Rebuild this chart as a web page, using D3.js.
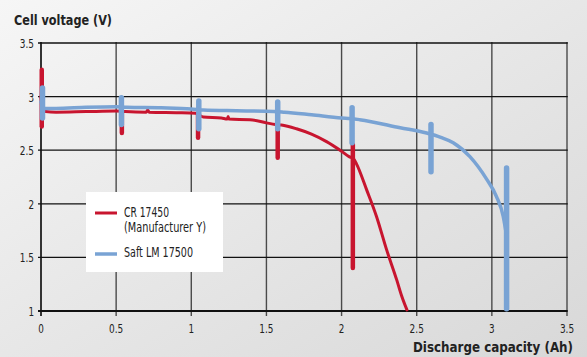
<!DOCTYPE html>
<html>
<head>
<meta charset="utf-8">
<script src="https://cdn.jsdelivr.net/npm/d3@7"></script>
<style>
  body { margin: 0; }
  svg { display: block; font-family: "Liberation Sans Narrow", "DejaVu Sans Condensed", sans-serif; }
</style>
</head>
<body>
<svg id="chart" width="587" height="357"></svg>
<script>
// values (capacity in Ah, voltage in V)
const xTicks = [0, 0.5, 1, 1.5, 2, 2.5, 3, 3.5]
const yTicks = [1, 1.5, 2, 2.5, 3, 3.5]

const redLine = [
  [0, 3.0], [0.012, 2.87], [0.03, 2.86], [0.1, 2.855], [0.3, 2.86], [0.5, 2.865], [0.56, 2.86],
  [0.7, 2.855], [0.71, 2.875], [0.72, 2.855], [0.9, 2.85], [1.03, 2.845], [1.08, 2.81], [1.2, 2.8],
  [1.24, 2.79], [1.245, 2.815], [1.25, 2.79], [1.39, 2.785], [1.5, 2.755], [1.56, 2.74], [1.6, 2.735],
  [1.7, 2.7], [1.8, 2.65], [1.9, 2.58], [2.0, 2.49], [2.05, 2.44], [2.08, 2.42], [2.1, 2.37],
  [2.167, 2.13], [2.233, 1.88], [2.3, 1.57], [2.367, 1.29], [2.4, 1.14], [2.435, 1.01]
]
const blueLine = [
  [0, 2.95], [0.02, 2.89], [0.1, 2.89], [0.3, 2.9], [0.5, 2.905], [0.57, 2.9], [0.8, 2.895],
  [1.0, 2.885], [1.08, 2.875], [1.3, 2.868], [1.55, 2.862], [1.62, 2.855], [1.8, 2.83], [2.0, 2.8],
  [2.06, 2.795], [2.12, 2.785], [2.39, 2.71], [2.566, 2.66], [2.66, 2.62], [2.743, 2.57],
  [2.854, 2.44], [2.965, 2.23], [3.03, 2.07], [3.076, 1.88], [3.098, 1.7]
]
// current pulses: [capacity, top voltage, bottom voltage]
const redPulses = [
  [0.005, 3.25, 2.72], [0.538, 2.86, 2.66], [1.045, 2.84, 2.615], [1.575, 2.72, 2.43], [2.075, 2.55, 1.4]
]
const bluePulses = [
  [0.01, 3.08, 2.8], [0.535, 2.99, 2.74], [1.05, 2.96, 2.7], [1.575, 2.95, 2.7],
  [2.07, 2.895, 2.57], [2.595, 2.74, 2.3], [3.098, 2.335, 1.02]
]
const seriesNames = ["CR 17450", "(Manufacturer Y)", "Saft LM 17500"]

const red = "#c8152f"
const blue = "#79a3d4"

const svg = d3.select("#chart")
const width = 587, height = 357
const margin = {left: 41, right: 20, top: 43, bottom: 46}

// background gradient
const defs = svg.append("defs")
const grad = defs.append("linearGradient").attr("id", "bg")
  .attr("x1", "0%").attr("y1", "0%").attr("x2", "100%").attr("y2", "100%")
grad.append("stop").attr("offset", "0%").attr("stop-color", "#f6f6f6")
grad.append("stop").attr("offset", "100%").attr("stop-color", "#d8d8d8")
svg.append("rect").attr("width", width).attr("height", height).attr("fill", "url(#bg)")

var x = d3.scaleLinear().domain([0, 3.5]).range([margin.left, width - margin.right])
var y = d3.scaleLinear().domain([1, 3.5]).range([height - margin.bottom, margin.top])

// grid
svg.append("g").selectAll("line").data(xTicks).enter().append("line")
  .attr("x1", d => x(d)).attr("x2", d => x(d))
  .attr("y1", y(3.5) - 1).attr("y2", y(1) + 5)
  .attr("stroke", d => d == 0 ? "#333" : "#4a4a4a").attr("stroke-width", d => d == 0 ? 2 : 1.4)
svg.append("g").selectAll("line").data(yTicks).enter().append("line")
  .attr("x1", x(0) - 3).attr("x2", x(3.5) + 0.7)
  .attr("y1", d => y(d)).attr("y2", d => y(d))
  .attr("stroke", "#111").attr("stroke-width", d => d == 1 ? 2 : 1.3)

// tick labels, squeezed to the narrow face of the original
function numWidth(d) {
  var s = String(d)
  return s.replace(".", "").length * 5.6 + (s.includes(".") ? 3 : 0)
}
svg.append("g").selectAll("text").data(yTicks).enter().append("text")
  .attr("x", x(0) - 7).attr("y", d => y(d) + 5)
  .attr("text-anchor", "end").attr("font-size", 13).attr("fill", "#222")
  .attr("textLength", numWidth).attr("lengthAdjust", "spacingAndGlyphs")
  .text(d => d)
svg.append("g").selectAll("text").data(xTicks).enter().append("text")
  .attr("x", d => x(d)).attr("y", y(1) + 22)
  .attr("text-anchor", "middle").attr("font-size", 13).attr("fill", "#222")
  .attr("textLength", numWidth).attr("lengthAdjust", "spacingAndGlyphs")
  .text(d => d)

// axis titles
svg.append("text").attr("x", 14).attr("y", 25)
  .attr("font-size", 14.5).attr("font-weight", "bold").attr("fill", "#222")
  .attr("textLength", 98).attr("lengthAdjust", "spacingAndGlyphs")
  .text("Cell voltage (V)")
svg.append("text").attr("x", 413).attr("y", 352)
  .attr("font-size", 14).attr("font-weight", "bold").attr("fill", "#222")
  .attr("textLength", 160).attr("lengthAdjust", "spacingAndGlyphs")
  .text("Discharge capacity (Ah)")

var line = d3.line().x(d => x(d[0])).y(d => y(d[1])).curve(d3.curveMonotoneX)

function drawSeries(points, pulses, color, w, pw) {
  var g = svg.append("g")
  g.append("path").datum(points)
    .attr("d", line).attr("fill", "none")
    .attr("stroke", color).attr("stroke-width", w)
    .attr("stroke-linejoin", "round").attr("stroke-linecap", "round")
  g.selectAll(".pulse").data(pulses).enter().append("path")
    .attr("class", "pulse")
    .attr("d", d => d3.line()([[x(d[0]), y(d[1])], [x(d[0]), y(d[2])]]))
    .attr("stroke", color).attr("stroke-width", pw)
    .attr("stroke-linecap", "round")
}
drawSeries(redLine, redPulses, red, 3, 4.5)
drawSeries(blueLine, bluePulses, blue, 3.5, 5.5)

// legend
var lg = svg.append("g")
lg.append("rect").attr("x", 86).attr("y", 192).attr("width", 137).attr("height", 80).attr("fill", "#fff")
lg.append("line").attr("x1", 95).attr("x2", 117).attr("y1", 213).attr("y2", 213)
  .attr("stroke", red).attr("stroke-width", 3)
lg.append("line").attr("x1", 95).attr("x2", 117).attr("y1", 254).attr("y2", 254)
  .attr("stroke", blue).attr("stroke-width", 3.5)
lg.selectAll("text").data(seriesNames).enter().append("text")
  .attr("x", 124).attr("y", (d, i) => [217, 232, 257][i])
  .attr("font-size", 14).attr("fill", "#222")
  .attr("textLength", (d, i) => [45, 82, 69][i]).attr("lengthAdjust", "spacingAndGlyphs")
  .text(d => d)
</script>
</body>
</html>
